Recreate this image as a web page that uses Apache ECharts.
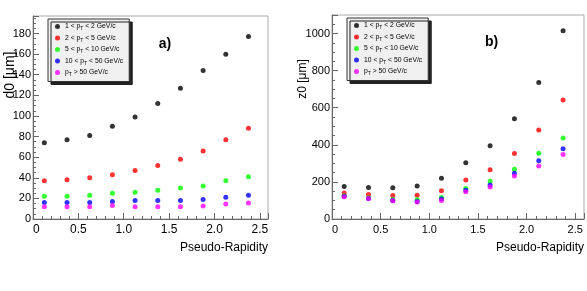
<!DOCTYPE html>
<html><head><meta charset="utf-8">
<script src="https://cdn.jsdelivr.net/npm/echarts@6/dist/echarts.min.js"></script>
<style>html,body{margin:0;padding:0;background:#fff}#c{width:587px;height:291px}</style>
</head><body><div id="c"></div>
<script>
// ---- data ----
const eta = [0.125, 0.375, 0.625, 0.875, 1.125, 1.375, 1.625, 1.875, 2.125, 2.375];
const seriesNames = ['1 < pT < 2 GeV/c', '2 < pT < 5 GeV/c', '5 < pT < 10 GeV/c', '10 < pT < 50 GeV/c', 'pT > 50 GeV/c'];
const seriesColors = ['#000000', '#ff0000', '#00ff00', '#0000ff', '#ff00ff'];

// panel a) d0 [um]
const d0_pt1to2   = [74, 77, 81, 90, 99, 112, 127, 144, 160, 177];
const d0_pt2to5   = [37, 38, 40, 43, 47, 52, 58, 66, 77, 88];
const d0_pt5to10  = [22, 22, 23, 25, 26, 28, 30, 32, 37, 41];
const d0_pt10to50 = [16, 16, 16, 17, 18, 18, 18, 19, 21, 23];
const d0_pt50     = [12, 12, 12, 13, 12, 12, 12, 12.5, 14.5, 15.5];

// panel b) z0 [um]
const z0_pt1to2   = [175, 170, 168, 178, 220, 303, 395, 540, 736, 1015];
const z0_pt2to5   = [140, 132, 127, 128, 152, 210, 265, 353, 480, 641];
const z0_pt5to10  = [125, 115, 105, 105, 116, 165, 203, 268, 355, 437];
const z0_pt10to50 = [122, 110, 100, 95, 108, 155, 183, 247, 314, 379];
const z0_pt50     = [120, 111, 98, 91, 100, 147, 172, 232, 286, 348];

const xTickLabels = ['0', '0.5', '1.0', '1.5', '2.0', '2.5'];

const d0Series = [d0_pt1to2, d0_pt2to5, d0_pt5to10, d0_pt10to50, d0_pt50];
const z0Series = [z0_pt1to2, z0_pt2to5, z0_pt5to10, z0_pt10to50, z0_pt50];

// ---- chart ----
const FONT = 'Liberation Sans, Arial, sans-serif';
const chart = echarts.init(document.getElementById('c'));

function pair(vals) { return eta.map((x, i) => [x, vals[i]]); }

function xAxis(gi, fs, alignMin) {
  return {
    type: 'value', gridIndex: gi, min: 0, max: 2.59, interval: 0.5,
    axisLine: { show: true, lineStyle: { color: '#666', width: 1 } },
    axisTick: { show: true, inside: true, length: 6, lineStyle: { color: '#666' } },
    minorTick: { show: true, splitNumber: 5, length: 3, lineStyle: { color: '#666' } },
    splitLine: { show: false },
    axisLabel: {
      color: '#000', fontSize: fs, fontFamily: FONT, margin: 5,
      showMaxLabel: false,
      formatter: v => xTickLabels[Math.round(v / 0.5)] ?? '',
      alignMinLabel: alignMin
    }
  };
}
function yAxis(gi, max, interval, fs) {
  return {
    type: 'value', gridIndex: gi, min: 0, max: max, interval: interval,
    axisLine: { show: true, lineStyle: { color: '#666', width: 1 } },
    axisTick: { show: true, inside: true, length: 6, lineStyle: { color: '#666' } },
    minorTick: { show: true, splitNumber: 4, length: 3, lineStyle: { color: '#666' } },
    splitLine: { show: false },
    axisLabel: { color: '#000', fontSize: fs, fontFamily: FONT, margin: 2, showMaxLabel: false,
      formatter: v => String(v) }
  };
}

const series = [];
d0Series.forEach((vals, i) => series.push({
  type: 'scatter', name: seriesNames[i], xAxisIndex: 0, yAxisIndex: 0,
  data: pair(vals), symbol: 'circle', symbolSize: 5,
  itemStyle: { color: seriesColors[i] }, silent: true
}));
z0Series.forEach((vals, i) => series.push({
  type: 'scatter', name: seriesNames[i], xAxisIndex: 1, yAxisIndex: 1,
  data: pair(vals), symbol: 'circle', symbolSize: 5,
  itemStyle: { color: seriesColors[i] }, silent: true
}));

function legendFmt(name) {
  const parts = name.split('pT');
  return (parts[0] ? '{n|' + parts[0] + 'p}' : '{n|p}') + '{s|T}{n|' + parts[1] + '}';
}
function legend(left, top) {
  return {
    data: seriesNames, orient: 'vertical', left: left, top: top,
    icon: 'circle', itemWidth: 5, itemHeight: 5, itemGap: 3,
    padding: [4, 6, 4, 7],
    backgroundColor: '#f0f0f0', borderColor: '#333', borderWidth: 1,
    shadowColor: '#222', shadowOffsetX: 3, shadowOffsetY: 3, shadowBlur: 0,
    selectedMode: false,
    formatter: legendFmt,
    textStyle: {
      color: '#000', fontSize: 7, fontFamily: FONT,
      rich: {
        n: { fontSize: 6.8, fontFamily: FONT, color: '#000' },
        s: { fontSize: 5, fontFamily: FONT, color: '#000', padding: [5, 0, 0, 0] }
      }
    }
  };
}

chart.setOption({
  animation: false,
  backgroundColor: '#fff',
  grid: [
    { left: 33, top: 16, right: 319, bottom: 72, show: true, borderColor: '#aaa', borderWidth: 1, backgroundColor: 'transparent' },
    { left: 332, top: 15, right: 3, bottom: 72, show: true, borderColor: '#aaa', borderWidth: 1, backgroundColor: 'transparent' }
  ],
  xAxis: [xAxis(0, 12, false), xAxis(1, 11, 'left')],
  yAxis: [yAxis(0, 197, 20, 11), yAxis(1, 1100, 200, 11)],
  legend: [legend(48, 19), legend(347, 18)],
  series: series,
  graphic: [
    { type: 'text', x: 10, y: 75, rotation: Math.PI / 2,
      style: { text: 'd0 [μm]', fontSize: 14, fontFamily: FONT, fill: '#000', align: 'center', verticalAlign: 'middle' } },
    { type: 'text', x: 303, y: 79, rotation: Math.PI / 2,
      style: { text: 'z0 [μm]', fontSize: 12, fontFamily: FONT, fill: '#000', align: 'center', verticalAlign: 'middle' } },
    { type: 'text', x: 268, y: 248,
      style: { text: 'Pseudo-Rapidity', fontSize: 12, fontFamily: FONT, fill: '#000', align: 'right', verticalAlign: 'middle' } },
    { type: 'text', x: 584, y: 248,
      style: { text: 'Pseudo-Rapidity', fontSize: 12, fontFamily: FONT, fill: '#000', align: 'right', verticalAlign: 'middle' } },
    { type: 'text', x: 165, y: 44.5,
      style: { text: 'a)', fontSize: 14, fontWeight: 'bold', fontFamily: FONT, fill: '#000', align: 'center', verticalAlign: 'middle' } },
    { type: 'text', x: 491.5, y: 42,
      style: { text: 'b)', fontSize: 14, fontWeight: 'bold', fontFamily: FONT, fill: '#000', align: 'center', verticalAlign: 'middle' } }
  ]
});
</script>
</body></html>
